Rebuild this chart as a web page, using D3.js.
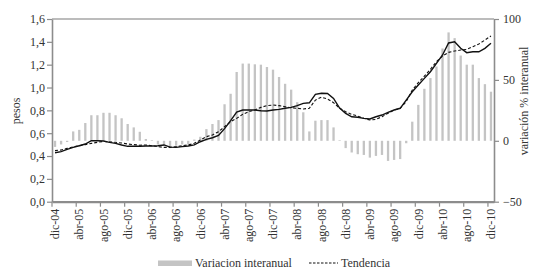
<!DOCTYPE html>
<html>
<head>
<meta charset="utf-8">
<script src="https://cdn.jsdelivr.net/npm/d3@7"></script>
<style>
  body { margin: 0; background: #fff; }
  text { font-family: "Liberation Serif", "Times New Roman", serif; fill: #333; }
</style>
</head>
<body>
<svg id="chart" width="535" height="269"></svg>
<script>
// month names and years used to build the monthly categories dic-04 .. dic-10
var monthNames = ["ene", "feb", "mar", "abr", "may", "jun", "jul", "ago", "sep", "oct", "nov", "dic"];
var years = ["04", "05", "06", "07", "08", "09", "10"];

// variacion % interanual (right axis)
var variacion = [
    -5, -3, -1, 7.7, 9, 14.6, 21, 21, 23, 23, 21, 18.5, 13.8, 11, 7.4, 1.5,
    0.5, -3, -4, -6, -4, -3, -3, 1, 3.3, 9.6, 13.8, 17, 30, 38.6, 56.5, 63.4,
    63.4, 62.8, 62.5, 60.6, 58.4, 52.4, 46.8, 42, 31.7, 23.4, 7.7, 16.5, 17, 17, 11, 0.5,
    -6, -9.6, -11, -11.6, -13.8, -12.4, -11.6, -16.5, -15.7, -15, -2, 15.7, 29.5, 42.7,
    51.5, 61, 75.8, 89, 84.3, 70, 62.5, 62.5, 51.5, 46.5, 40.3
];

// precio en pesos (left axis), solid line
var pesos = [
    0.429, 0.438, 0.459, 0.476, 0.49, 0.505, 0.534, 0.534, 0.531, 0.52, 0.511, 0.497, 0.485, 0.485, 0.485, 0.488,
    0.488, 0.49, 0.497, 0.478, 0.476, 0.482, 0.488, 0.497, 0.525, 0.546, 0.56, 0.58, 0.64, 0.71, 0.785, 0.803,
    0.803, 0.803, 0.797, 0.794, 0.803, 0.809, 0.818, 0.826, 0.841, 0.861, 0.866, 0.94, 0.95, 0.948, 0.905, 0.82,
    0.774, 0.744, 0.739, 0.73, 0.724, 0.744, 0.759, 0.782, 0.803, 0.818, 0.89, 0.963, 1.022, 1.08,
    1.138, 1.212, 1.285, 1.39, 1.40, 1.343, 1.305, 1.313, 1.313, 1.343, 1.387
];

// tendencia (left axis), dashed line
var tendencia = [
    0.447, 0.453, 0.467, 0.48, 0.49, 0.5, 0.511, 0.52, 0.528, 0.525, 0.52, 0.514, 0.505, 0.5, 0.495, 0.497,
    0.49, 0.482, 0.476, 0.476, 0.482, 0.49, 0.497, 0.511, 0.54, 0.569, 0.584, 0.613, 0.657, 0.70, 0.73, 0.765,
    0.788, 0.803, 0.826, 0.841, 0.847, 0.841, 0.832, 0.823, 0.818, 0.812, 0.818, 0.89, 0.915, 0.9, 0.867, 0.818,
    0.788, 0.765, 0.75, 0.73, 0.715, 0.721, 0.744, 0.774, 0.803, 0.818, 0.876, 0.978, 1.042, 1.10,
    1.16, 1.226, 1.276, 1.308, 1.32, 1.328, 1.334, 1.357, 1.381, 1.416, 1.451
];

var leftTicks = [0, 0.2, 0.4, 0.6, 0.8, 1.0, 1.2, 1.4, 1.6];
var rightTicks = [-50, 0, 50, 100];

// build categories: dic-04 then every month up to dic-10
var categories = ["dic-04"];
years.slice(1).forEach(function (y) {
    monthNames.forEach(function (m) { categories.push(m + "-" + y); });
});
var labelCats = categories.filter(function (c, i) { return i % 4 === 0; });

var svg = d3.select("#chart");
var plotLeft = 52, plotRight = 494, plotTop = 19, plotBottom = 201.7;
var axisColor = "#8c8c8c";

var x = d3.scaleBand().domain(categories).range([plotLeft, plotRight]);
var yL = d3.scaleLinear().domain([0, 1.6]).range([plotBottom, plotTop]);
var yR = d3.scaleLinear().domain([-50, 100]).range([plotBottom, plotTop]);

// top border
svg.append("line")
    .attr("x1", plotLeft).attr("x2", plotRight)
    .attr("y1", plotTop).attr("y2", plotTop)
    .style("stroke", "#a6a6a6").style("stroke-width", 1.5);

// bars
var barW = 2.3;
svg.append("g").selectAll("rect")
    .data(variacion)
    .enter().append("rect")
    .attr("x", function (d, i) { return x(categories[i]) + x.bandwidth() / 2 - barW / 2; })
    .attr("width", barW)
    .attr("y", function (d) { return Math.min(yR(d), yR(0)); })
    .attr("height", function (d) { return Math.abs(yR(d) - yR(0)); })
    .style("fill", "#c4c4c4");

// lines
var line = function (values) {
    return d3.line()
        .x(function (d, i) { return x(categories[i]) + x.bandwidth() / 2; })
        .y(function (d) { return yL(d); })(values);
};

svg.append("path")
    .attr("d", line(tendencia))
    .style("fill", "none").style("stroke", "#111")
    .style("stroke-width", 1.1).style("stroke-dasharray", "3,2");

svg.append("path")
    .attr("d", line(pesos))
    .style("fill", "none").style("stroke", "#111")
    .style("stroke-width", 1.4);

// left axis
var fmtL = function (d) { return d3.format(".1f")(d).replace(".", ","); };
var gL = svg.append("g")
    .attr("transform", "translate(" + plotLeft + ",0)")
    .call(d3.axisLeft(yL).tickValues(leftTicks).tickFormat(fmtL).tickSize(5).tickSizeOuter(0));

// right axis
var gR = svg.append("g")
    .attr("transform", "translate(" + plotRight + ",0)")
    .call(d3.axisRight(yR).tickValues(rightTicks).tickSize(5).tickSizeOuter(0));

// bottom axis: labels centred on the month, ticks at the month's left edge
var gB = svg.append("g")
    .attr("transform", "translate(0," + plotBottom + ")")
    .call(d3.axisBottom(x).tickValues(labelCats).tickSize(0).tickSizeOuter(0));

gB.selectAll(".tick text")
    .attr("transform", "rotate(-90)")
    .attr("x", -7).attr("y", 0)
    .attr("dy", "0.35em")
    .style("text-anchor", "end");

gB.selectAll(".tickmark")
    .data(labelCats)
    .enter().append("line")
    .attr("x1", function (d) { return x(d); })
    .attr("x2", function (d) { return x(d); })
    .attr("y1", 0).attr("y2", 5)
    .style("stroke", axisColor).style("stroke-width", 1.2);

[gL, gR, gB].forEach(function (g) {
    g.select(".domain").style("stroke", axisColor).style("stroke-width", 1.6);
    g.selectAll(".tick line").style("stroke", axisColor).style("stroke-width", 1.2);
    g.selectAll("text")
        .style("font-family", "'Liberation Serif', serif")
        .style("font-size", "12px").style("fill", "#333");
});
gL.selectAll(".tick text").attr("x", -7);
gR.selectAll(".tick text").attr("x", 9);
gB.select(".domain").style("stroke-width", 2.2);

// axis titles
svg.append("text")
    .attr("transform", "translate(20,111) rotate(-90)")
    .style("text-anchor", "middle").style("font-size", "12px")
    .text("pesos");

svg.append("text")
    .attr("transform", "translate(528,101) rotate(-90)")
    .style("text-anchor", "middle").style("font-size", "12px")
    .text("variación % interanual");

// legend
var lg = svg.append("g");
lg.append("rect")
    .attr("x", 158).attr("y", 260.5)
    .attr("width", 34).attr("height", 5.5)
    .style("fill", "#c4c4c4");
lg.append("text")
    .attr("x", 195).attr("y", 266.5)
    .style("font-size", "12px")
    .text("Variacion interanual");
lg.append("line")
    .attr("x1", 309).attr("x2", 338)
    .attr("y1", 263).attr("y2", 263)
    .style("stroke", "#111").style("stroke-width", 1.1)
    .style("stroke-dasharray", "2.5,1.5");
lg.append("text")
    .attr("x", 341).attr("y", 266.5)
    .style("font-size", "12px")
    .text("Tendencia");
</script>
</body>
</html>
